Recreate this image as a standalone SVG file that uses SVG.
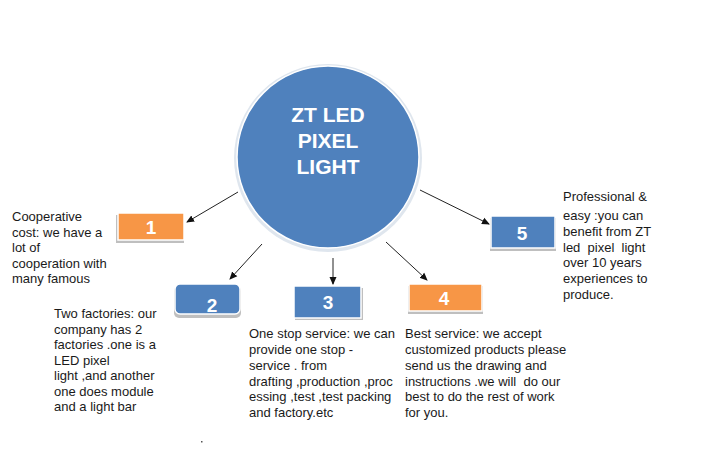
<svg xmlns="http://www.w3.org/2000/svg" width="707" height="460" viewBox="0 0 707 460">
<style>
.t{font-family:"Liberation Sans",Arial,sans-serif;font-size:13px;fill:#1a1a1a;white-space:pre}
.n{font-family:"Liberation Sans",Arial,sans-serif;font-size:19px;font-weight:bold;fill:#fff;text-anchor:middle}
.c{font-family:"Liberation Sans",Arial,sans-serif;font-size:21px;font-weight:bold;fill:#fff;text-anchor:middle}
.b{fill:#4f81bd;stroke:#fff;stroke-width:1.5}
.o{fill:#f79646;stroke:#fff;stroke-width:1.5}
.s{fill:#bfbfbf}
.a{stroke:#222;stroke-width:1;fill:none;marker-end:url(#ah)}
</style>
<defs>
<marker id="ah" markerWidth="8" markerHeight="8" refX="7" refY="4" orient="auto" markerUnits="userSpaceOnUse">
<path d="M0,0.5 L8,4 L0,7.5 Z" fill="#111"/>
</marker>
</defs>
<rect width="707" height="460" fill="#fff"/>
<g id="connectors">
<line class="a" x1="238" y1="192" x2="187" y2="222"/>
<line class="a" x1="262" y1="244" x2="230" y2="279"/>
<line class="a" x1="333" y1="258" x2="333" y2="284"/>
<line class="a" x1="386" y1="242" x2="427" y2="280"/>
<line class="a" x1="420" y1="190" x2="489" y2="224"/>
</g>
<g id="center">
<circle cx="328" cy="158" r="94" fill="#dfe6ee"/>
<circle cx="328" cy="157" r="91" fill="#4f81bd" stroke="#fff" stroke-width="1.5"/>
<text class="c" x="328" y="122">ZT LED</text>
<text class="c" x="328" y="148">PIXEL</text>
<text class="c" x="328" y="174">LIGHT</text>
</g>
<g id="node1">
<rect class="s" x="116" y="215" width="68" height="28"/>
<rect class="o" x="118" y="213" width="66" height="27"/>
<text class="n" x="151" y="234">1</text>
</g>
<g id="node2">
<rect class="s" x="174" y="286" width="67" height="32" rx="5"/>
<rect class="b" x="175" y="284" width="65" height="30" rx="5"/>
<text class="n" x="212" y="312">2</text>
</g>
<g id="node3">
<rect class="s" x="295" y="288" width="68" height="32"/>
<rect class="b" x="294" y="286" width="67" height="32"/>
<text class="n" x="328" y="309">3</text>
</g>
<g id="node4">
<rect class="s" x="408" y="286" width="75" height="28"/>
<rect class="o" x="409" y="284" width="73" height="27"/>
<text class="n" x="444" y="305">4</text>
</g>
<g id="node5">
<rect class="s" x="490" y="218" width="66" height="33"/>
<rect class="b" x="491" y="216" width="64" height="32"/>
<text class="n" x="522" y="240">5</text>
</g>
<g id="text1">
<text class="t" x="12" y="221">Cooperative</text>
<text class="t" x="12" y="237">cost: we have a</text>
<text class="t" x="12" y="252">lot of</text>
<text class="t" x="12" y="268">cooperation with</text>
<text class="t" x="12" y="283">many famous</text>
</g>
<g id="text2">
<text class="t" x="54" y="318">Two factories: our</text>
<text class="t" x="54" y="334">company has 2</text>
<text class="t" x="54" y="349">factories .one is a</text>
<text class="t" x="54" y="365">LED pixel</text>
<text class="t" x="54" y="380">light ,and another</text>
<text class="t" x="54" y="396">one does module</text>
<text class="t" x="54" y="411">and a light bar</text>
</g>
<g id="text3">
<text class="t" x="249" y="338">One stop service: we can</text>
<text class="t" x="249" y="354">provide one stop -</text>
<text class="t" x="249" y="370">service . from</text>
<text class="t" x="249" y="386">drafting ,production ,proc</text>
<text class="t" x="249" y="401">essing ,test ,test packing</text>
<text class="t" x="249" y="417">and factory.etc</text>
</g>
<g id="text4">
<text class="t" x="405" y="338">Best service: we accept</text>
<text class="t" x="405" y="354">customized products please</text>
<text class="t" x="405" y="370">send us the drawing and</text>
<text class="t" x="405" y="386">instructions .we will  do our</text>
<text class="t" x="405" y="401">best to do the rest of work</text>
<text class="t" x="405" y="417">for you.</text>
</g>
<g id="text5">
<text class="t" x="563" y="201">Professional &amp;</text>
<text class="t" x="563" y="220">easy :you can</text>
<text class="t" x="563" y="236">benefit from ZT</text>
<text class="t" x="563" y="252">led  pixel  light</text>
<text class="t" x="563" y="267">over 10 years</text>
<text class="t" x="563" y="283">experiences to</text>
<text class="t" x="563" y="299">produce.</text>
</g>
<rect x="201" y="441" width="1.5" height="1.5" fill="#555"/>
</svg>
